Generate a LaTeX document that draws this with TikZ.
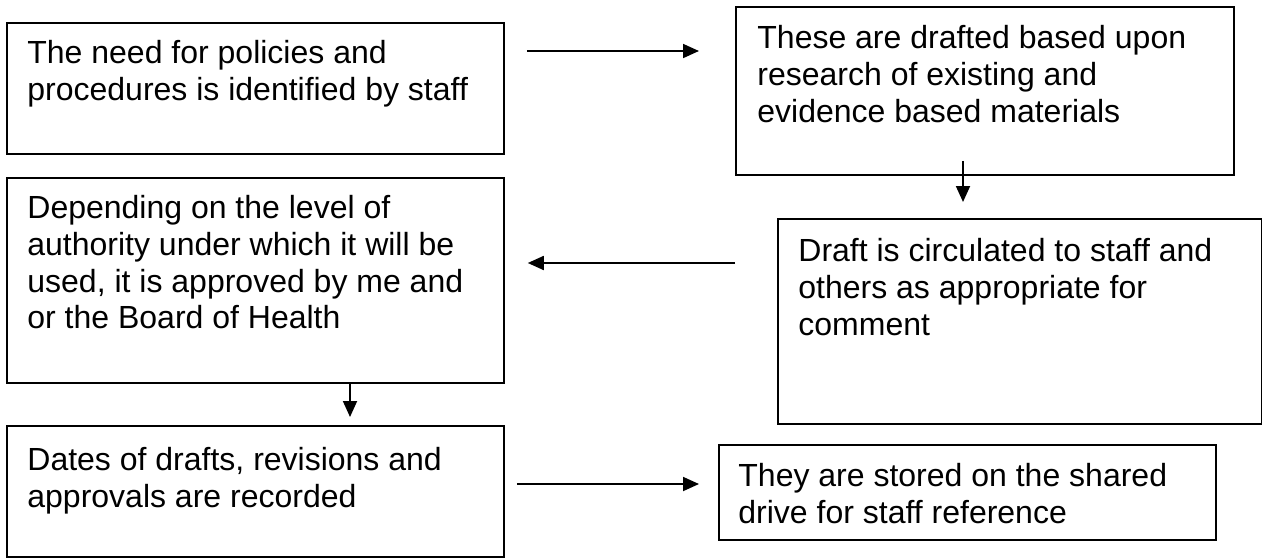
\documentclass[tikz,border=0pt]{standalone}
\usepackage{fontspec}
\setmainfont{Liberation Sans}
\usetikzlibrary{arrows.meta}
\begin{document}
\begin{tikzpicture}[x=0.5pt,y=-0.5pt,
  box/.style={draw=black, line width=0.9pt, rectangle, anchor=north west, inner sep=0pt},
  txt/.style={anchor=north west, inner sep=0pt, align=left, font=\fontsize{16pt}{18.4pt}\selectfont},
  arr/.style={line width=0.9pt, -{Triangle[length=8pt,width=7pt]}}]
\useasboundingbox (0,0) rectangle (1262,557);
% boxes
\node[box, minimum width=248.5pt, minimum height=65.5pt] (b1) at (6,22) {};
\node[box, minimum width=249pt, minimum height=84pt] (b2) at (735,6) {};
\node[box, minimum width=248.5pt, minimum height=102.5pt] (b3) at (6,177) {};
\node[box, minimum width=242pt, minimum height=102.5pt] (b4) at (777,218) {};
\node[box, minimum width=248.5pt, minimum height=65.5pt] (b5) at (6,425) {};
\node[box, minimum width=248.5pt, minimum height=47.5pt] (b6) at (718,444) {};
% texts
\node[txt] (t1) at ([shift={(21,18)}]b1.north west) {The need for policies and\\procedures is identified by staff};
\node[txt] (t2) at ([shift={(22,19)}]b2.north west) {These are drafted based upon\\research of existing and\\evidence based materials};
\node[txt] (t3) at ([shift={(21,18)}]b3.north west) {Depending on the level of\\authority under which it will be\\used, it is approved by me and\\or the Board of Health};
\node[txt] (t4) at ([shift={(21,20)}]b4.north west) {Draft is circulated to staff and\\others as appropriate for\\comment};
\node[txt] (t5) at ([shift={(21,22)}]b5.north west) {Dates of drafts, revisions and\\approvals are recorded};
\node[txt] (t6) at ([shift={(20,19)}]b6.north west) {They are stored on the shared\\drive for staff reference};
% connectors
\draw[arr] ([shift={(22,29)}]b1.north east) -- ([shift={(-36,45)}]b2.north west);
\draw[arr] ([shift={(228,-15)}]b2.south west) -- ([shift={(186,-16)}]b4.north west);
\draw[arr] ([shift={(-42,45)}]b4.north west) -- ([shift={(23,86)}]b3.north east);
\draw[arr] ([shift={(344,0)}]b3.south west) -- ([shift={(344,-8)}]b5.north west);
\draw[arr] ([shift={(12,59)}]b5.north east) -- ([shift={(-19,40)}]b6.north west);
\end{tikzpicture}
\end{document}
